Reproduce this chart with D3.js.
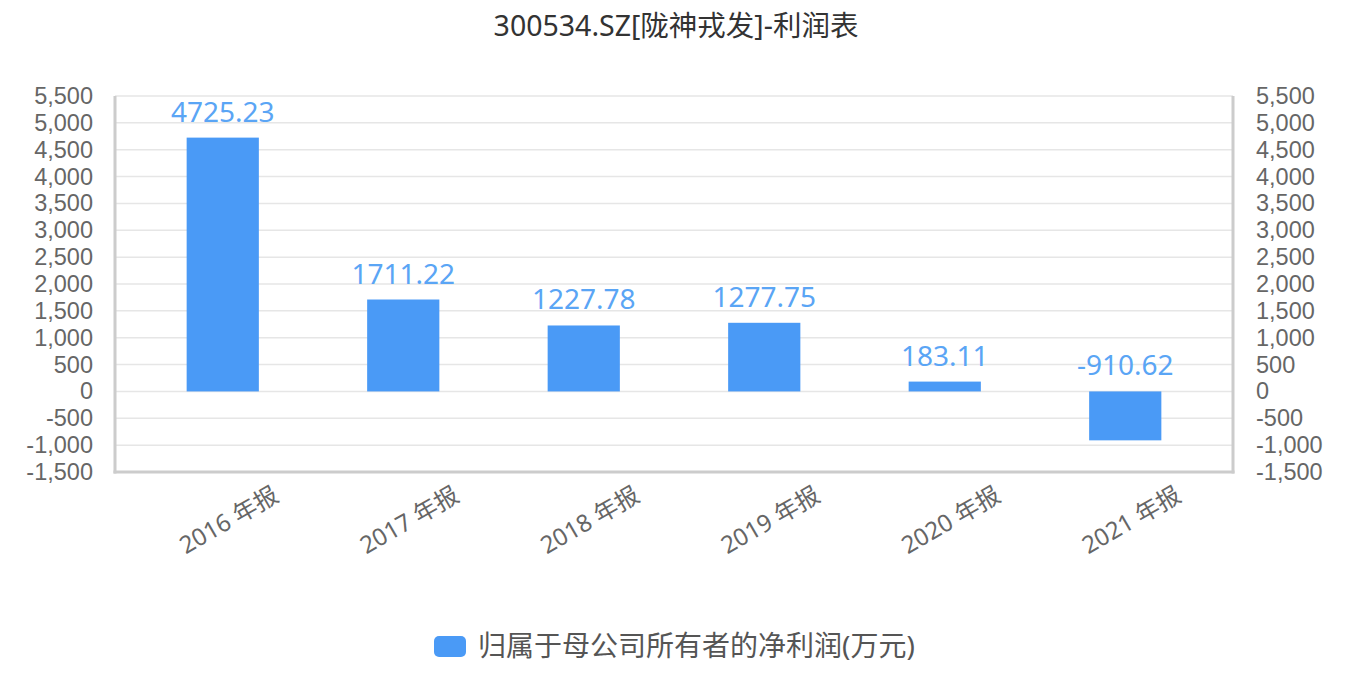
<!DOCTYPE html>
<html lang="zh">
<head>
<meta charset="UTF-8">
<title>300534.SZ[陇神戎发]-利润表</title>
<script src="https://d3js.org/d3.v7.min.js"></script>
<style>
body{margin:0;background:#fff;}
svg{font-family:"Noto Sans","Noto Sans CJK SC",sans-serif;}
.tick text{fill:#666;font-size:23.5px;}
</style>
</head>
<body>
<script>
var width = 1360, height = 678;

// 数据
var categories = ['2016 年报', '2017 年报', '2018 年报', '2019 年报', '2020 年报', '2021 年报'];
var profit = [4725.23, 1711.22, 1227.78, 1277.75, 183.11, -910.62];
var yTicks = [-1500, -1000, -500, 0, 500, 1000, 1500, 2000, 2500, 3000, 3500, 4000, 4500, 5000, 5500];
var seriesName = '归属于母公司所有者的净利润(万元)';
var title = '300534.SZ[陇神戎发]-利润表';

var padding = {left:115, right:127, top:96, bottom:206};
var innerW = width - padding.left - padding.right;
var innerH = height - padding.top - padding.bottom;

var svg = d3.select('body').append('svg')
  .attr('width', width).attr('height', height);

var x = d3.scaleBand().domain(categories).range([17.5, innerW - 17.5]).paddingInner(0.6).paddingOuter(0.3);
var y = d3.scaleLinear().domain([-1500, 5500]).range([innerH, 0]);

var g = svg.append('g').attr('transform', 'translate(' + padding.left + ',' + padding.top + ')');

// 网格线
g.selectAll('.grid').data(yTicks).enter().append('line')
  .attr('x1', 0).attr('x2', innerW)
  .attr('y1', function(d){return y(d);}).attr('y2', function(d){return y(d);})
  .attr('stroke', '#e6e6e6').attr('stroke-width', 1.5);

// 边框
g.append('line').attr('x1', 0).attr('x2', 0).attr('y1', 0).attr('y2', innerH + 1.5)
  .attr('stroke', '#ccc').attr('stroke-width', 3);
g.append('line').attr('x1', innerW).attr('x2', innerW).attr('y1', 0).attr('y2', innerH + 1.5)
  .attr('stroke', '#ccc').attr('stroke-width', 3);
g.append('line').attr('x1', -1.5).attr('x2', innerW + 1.5).attr('y1', innerH).attr('y2', innerH)
  .attr('stroke', '#ccc').attr('stroke-width', 3);

// 左右轴刻度
var fmt = function(d){return d3.format(',')(d).replace('−', '-');};
var yl = g.append('g').call(d3.axisLeft(y).tickValues(yTicks).tickFormat(fmt).tickSize(0).tickPadding(22));
yl.select('.domain').remove();
var yr = g.append('g').attr('transform', 'translate(' + innerW + ',0)')
  .call(d3.axisRight(y).tickValues(yTicks).tickFormat(fmt).tickSize(0).tickPadding(23));
yr.select('.domain').remove();

// 柱子
g.selectAll('.bar').data(profit).enter().append('rect')
  .attr('x', function(d, i){return x(categories[i]);})
  .attr('y', function(d){return y(Math.max(d, 0));})
  .attr('width', x.bandwidth())
  .attr('height', function(d){return Math.abs(y(d) - y(0));})
  .attr('fill', '#4a9af6');

// 数值标签
g.selectAll('.val').data(profit).enter().append('text')
  .attr('x', function(d, i){return x(categories[i]) + x.bandwidth() / 2;})
  .attr('y', function(d){return y(Math.max(d, 0)) - 16;})
  .attr('text-anchor', 'middle')
  .attr('fill', '#5aa5f5')
  .style('font-size', '28px')
  .text(function(d){return d;});

// x 轴标签
g.selectAll('.xl').data(categories).enter().append('text')
  .attr('transform', function(d){
    return 'translate(' + (x(d) + x.bandwidth() / 2 + 6) + ',' + (innerH + 48) + ') rotate(-30)';
  })
  .attr('text-anchor', 'middle')
  .attr('dy', '0.35em')
  .attr('fill', '#666')
  .style('font-size', '24px')
  .text(function(d){return d;});

// 标题
svg.append('text').attr('x', width / 2 - 4).attr('y', 36)
  .attr('text-anchor', 'middle').attr('fill', '#333')
  .style('font-size', '28.5px').text(title);

// 图例
var lg = svg.append('g').attr('transform', 'translate(434,636)');
lg.append('rect').attr('width', 32).attr('height', 21).attr('rx', 5)
  .attr('fill', '#4a9af6');
lg.append('text').attr('x', 44).attr('y', 10.5).attr('dy', '0.35em')
  .attr('fill', '#555').style('font-size', '28px').text(seriesName);
</script>
</body>
</html>
